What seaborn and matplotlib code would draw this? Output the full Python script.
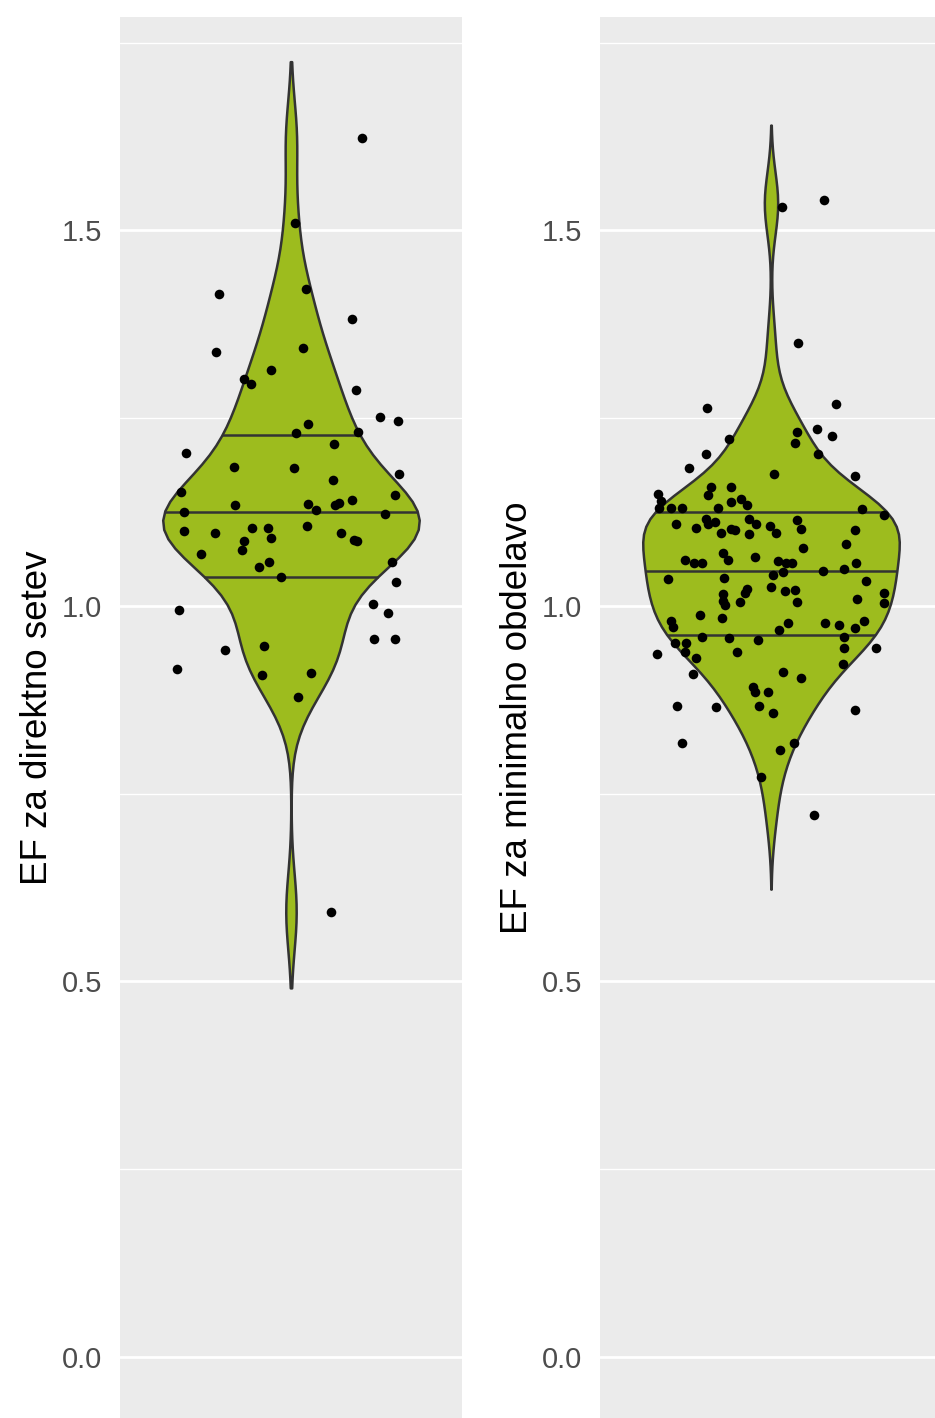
import numpy as np
import matplotlib
matplotlib.use("Agg")
import matplotlib.pyplot as plt
from matplotlib.ticker import MultipleLocator
import seaborn as sns


# ===============================
# DATA (read off the jittered points)
# ===============================
direct_ef = [1.623, 1.510, 1.415, 1.422, 1.382, 1.338, 1.344, 1.314, 1.302, 1.296,
             1.288, 1.242, 1.230, 1.252, 1.246, 1.232, 1.216, 1.204, 1.185, 1.184,
             1.168, 1.176, 1.152, 1.148, 1.134, 1.136, 1.128, 1.134, 1.137, 1.141,
             1.125, 1.123, 1.100, 1.097, 1.104, 1.104, 1.091, 1.087, 1.107, 1.097,
             1.088, 1.087, 1.069, 1.075, 1.059, 1.052, 1.039, 1.059, 1.032, 0.995,
             1.003, 0.991, 0.956, 0.956, 0.941, 0.947, 0.916, 0.908, 0.911, 0.879,
             0.593]
direct_jitter = [0.249, 0.014, -0.253, 0.053, 0.214, -0.263, 0.042, -0.070, -0.165, -0.140,
                 0.228, 0.060, 0.018, 0.312, 0.375, 0.235, 0.151, -0.368, -0.200, 0.011,
                 0.147, 0.379, -0.386, 0.365, -0.196, 0.060, 0.088, 0.154, 0.168, 0.214,
                 -0.375, 0.330, -0.375, -0.267, -0.137, -0.081, -0.070, -0.165, 0.056, 0.175,
                 0.221, 0.232, -0.316, -0.172, -0.077, -0.112, -0.035, 0.354, 0.368, -0.393,
                 0.288, 0.340, 0.291, 0.365, -0.232, -0.095, -0.400, -0.102, 0.070, 0.025,
                 0.140]

minimal_ef = [1.531, 1.541, 1.350, 1.264, 1.269, 1.222, 1.232, 1.217, 1.236, 1.226,
              1.202, 1.202, 1.184, 1.176, 1.173, 1.149, 1.140, 1.130, 1.130, 1.130,
              1.158, 1.148, 1.158, 1.138, 1.142, 1.134, 1.130, 1.129, 1.121, 1.109,
              1.104, 1.116, 1.109, 1.112, 1.097, 1.103, 1.101, 1.116, 1.109, 1.096,
              1.107, 1.097, 1.115, 1.103, 1.101, 1.077, 1.083, 1.071, 1.061, 1.057,
              1.057, 1.061, 1.065, 1.060, 1.057, 1.057, 1.057, 1.047, 1.049, 1.041,
              1.045, 1.036, 1.037, 1.033, 1.016, 1.007, 1.001, 1.005, 1.017, 1.023,
              1.025, 1.020, 1.021, 1.005, 1.017, 1.004, 1.009, 0.988, 0.984, 0.980,
              0.972, 0.977, 0.968, 0.977, 0.975, 0.971, 0.980, 0.959, 0.951, 0.951,
              0.957, 0.955, 0.959, 0.944, 0.939, 0.936, 0.939, 0.944, 0.931, 0.923,
              0.909, 0.912, 0.904, 0.892, 0.885, 0.885, 0.867, 0.858, 0.867, 0.866,
              0.862, 0.818, 0.808, 0.818, 0.772, 0.722]
minimal_jitter = [0.039, 0.186, 0.095, -0.225, 0.228, -0.147, 0.091, 0.084, 0.161, 0.214,
                  -0.228, 0.165, -0.288, 0.011, 0.295, -0.396, -0.386, -0.393, -0.351, -0.312,
                  -0.211, -0.221, -0.140, -0.140, -0.105, -0.084, -0.186, 0.319, 0.396, -0.333,
                  -0.263, -0.228, -0.221, -0.196, -0.175, -0.140, -0.126, -0.077, -0.053, -0.077,
                  -0.004, 0.018, 0.091, 0.105, 0.295, 0.112, 0.263, -0.168, -0.302, -0.270,
                  -0.242, -0.151, -0.056, 0.025, 0.053, 0.074, 0.298, 0.182, 0.256, 0.007,
                  0.042, -0.361, -0.165, 0.333, -0.168, -0.168, -0.161, -0.109, -0.091, -0.084,
                  0.000, 0.049, 0.084, 0.091, 0.396, 0.396, 0.302, -0.249, -0.172, -0.351,
                  -0.344, 0.060, 0.028, 0.189, 0.239, 0.295, 0.326, -0.242, -0.337, -0.298,
                  -0.147, -0.046, 0.256, 0.256, -0.302, -0.400, -0.119, 0.368, -0.263, 0.253,
                  -0.274, 0.042, 0.105, -0.063, -0.056, -0.011, -0.042, 0.007, -0.330, -0.193,
                  0.295, -0.312, 0.032, 0.081, -0.035, 0.151]

panel_titles = ["EF za direktno setev", "EF za minimalno obdelavo"]
y_ticks = [0.0, 0.5, 1.0, 1.5]
y_tick_labels = ["0.0", "0.5", "1.0", "1.5"]
quantiles = [0.25, 0.5, 0.75]


# ===============================
# STYLE (ggplot grey look)
# ===============================
sns.set_style("darkgrid", {"axes.facecolor": "#EBEBEB", "grid.color": "white"})
plt.rcParams['font.family'] = ['Liberation Sans', 'DejaVu Sans']

fill_green = "#9DBC1E"
edge_grey = "#333333"


def draw_density_quantiles(ax, ef):
    # quantile lines taken from the violin's own density (like ggplot)
    verts = ax.collections[0].get_paths()[0].vertices
    side = verts[verts[:, 0] > 0]
    ys, idx = np.unique(side[:, 1], return_index=True)
    hw = side[idx, 0]
    keep = (ys >= min(ef)) & (ys <= max(ef))
    ys, hw = ys[keep], hw[keep]
    cdf = np.concatenate([[0], np.cumsum(np.diff(ys) * (hw[1:] + hw[:-1]) / 2)])
    cdf /= cdf[-1]
    for q in quantiles:
        yq = np.interp(q, cdf, ys)
        w = np.interp(yq, ys, hw)
        ax.plot([-w, w], [yq, yq], color=edge_grey, linewidth=1.8,
                solid_capstyle="butt", zorder=2)


fig = plt.figure(figsize=(9.35, 14.18), dpi=100)

panels = [
    (direct_ef, direct_jitter, panel_titles[0], 0.1283, 0.70, 2.0),
    (minimal_ef, minimal_jitter, panel_titles[1], 0.6417, 0.82, 2.4),
]

for ef, jit, title, left, bw, cut in panels:
    ax = fig.add_axes([left, 0.0, 0.3658, 0.988])

    sns.violinplot(y=ef, ax=ax, color=fill_green, saturation=1,
                   linecolor=edge_grey, linewidth=1.8, inner=None,
                   width=0.9, cut=cut, bw_adjust=bw)
    draw_density_quantiles(ax, ef)

    sns.scatterplot(x=jit, y=ef, ax=ax, color="black", s=48,
                    linewidth=0, zorder=3)

    ax.set_xlim(-0.6, 0.6)
    ax.set_ylim(-0.0812, 1.784)
    ax.set_xticks([])
    ax.set_xlabel("")

    ax.set_yticks(y_ticks)
    ax.set_yticklabels(y_tick_labels)
    ax.yaxis.set_minor_locator(MultipleLocator(0.25))
    ax.grid(False)
    ax.grid(which="major", axis="y", color="white", linewidth=2.0)
    ax.grid(which="minor", axis="y", color="white", linewidth=1.0)
    ax.set_axisbelow(True)

    ax.tick_params(axis="y", which="major", length=6, width=1.6,
                   color=edge_grey, labelsize=21, labelcolor="#4D4D4D", pad=7)
    ax.tick_params(axis="y", which="minor", length=0)
    for sp in ax.spines.values():
        sp.set_visible(False)

    ax.set_ylabel(title, fontsize=26.5, color="black")
    ax.yaxis.set_label_coords(-0.19, 0.5)

fig.savefig("out.png", dpi=100)
plt.close(fig)
